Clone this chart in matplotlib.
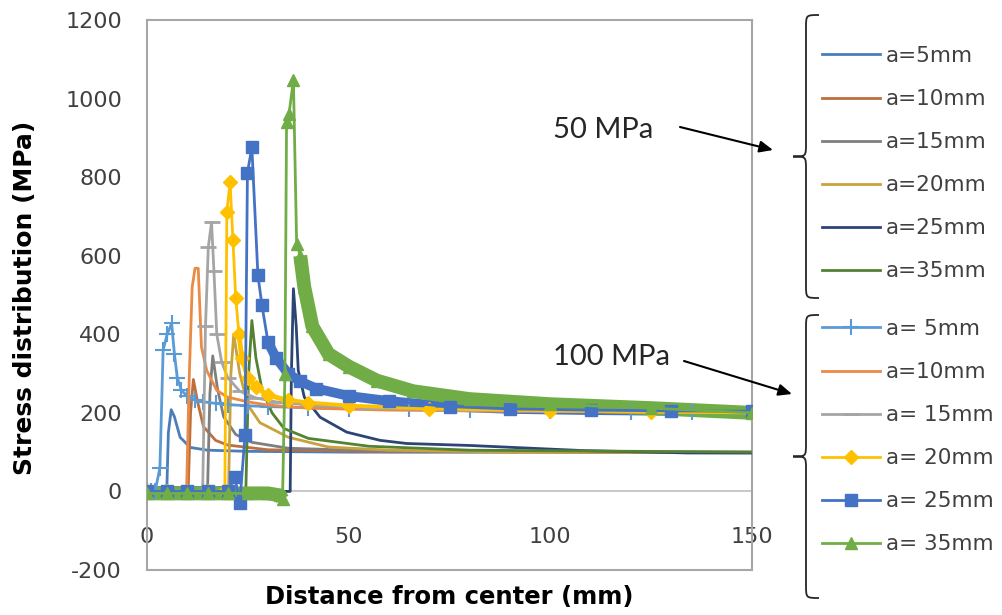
import numpy as np
import matplotlib
matplotlib.use('Agg')
import matplotlib.pyplot as plt
from matplotlib.path import Path
from matplotlib.patches import PathPatch

plt.rcParams['axes.unicode_minus'] = False

# ---- 50 MPa, plain lines ----
x_50_a5 = [0, 4.9, 5.3, 6.0, 6.8, 8.2, 10.7, 15, 25, 50, 100, 150]
y_50_a5 = [0, 0, 150, 208, 190, 138, 112, 105, 102, 100, 100, 98]
x_50_a10 = [0, 10.2, 10.8, 11.5, 12.5, 14, 17, 20, 30, 60, 150]
y_50_a10 = [0, 0, 200, 285, 230, 165, 130, 118, 106, 101, 100]
x_50_a15 = [0, 15.0, 15.6, 16.3, 17.5, 19, 22, 26, 35, 60, 150]
y_50_a15 = [0, 0, 250, 345, 260, 190, 145, 125, 110, 102, 100]
x_50_a20 = [0, 20.2, 20.8, 21.5, 23, 25, 28, 35, 45, 60, 90, 150]
y_50_a20 = [0, 0, 300, 400, 300, 220, 175, 138, 113, 105, 100, 99]
x_50_a25 = [0, 35.5, 35.8, 36.3, 37.0, 37.5, 39, 42.9, 49.5, 57.8, 64.4, 80, 108, 134, 150]
y_50_a25 = [0, 0, 300, 516, 420, 308, 240, 189, 151, 130, 122, 117, 104, 98, 98]
x_50_a35 = [0, 24.5, 25.2, 26.0, 27, 28.5, 31, 34, 40, 55, 80, 150]
y_50_a35 = [0, 0, 300, 435, 340, 260, 200, 160, 135, 115, 105, 100]

# ---- 100 MPa, with markers ----
x_100_a5 = [0, 1, 2, 3.2, 4.0, 5.0, 6.1, 6.8, 7.5, 8.5, 10, 12, 14, 17, 20, 25, 30, 40,
            50, 65, 80, 100, 120, 135, 150]
y_100_a5 = [0, 0, 0, 60, 360, 400, 428, 350, 290, 258, 242, 233, 228, 224, 221, 218, 216, 213,
            211, 209, 207, 205, 203, 202, 200]
x_100_a10 = [0, 5, 9.8, 10.5, 11.2, 11.9, 12.7, 13.5, 14.8, 17.3, 20, 25, 30, 40, 60, 90, 120, 150]
y_100_a10 = [0, 0, 0, 300, 520, 568, 568, 368, 308, 257, 240, 228, 220, 212, 207, 204, 202, 200]
x_100_a15 = [0, 5, 10, 13.8, 14.5, 15.2, 16.0, 16.6, 17.3, 18.5, 20, 23, 27, 32, 40, 55, 75,
             100, 125, 150]
y_100_a15 = [0, 0, 0, 0, 420, 622, 685, 560, 400, 330, 290, 255, 238, 228, 220, 212, 207,
             204, 202, 200]
x_100_a20 = [0, 5, 10, 15, 19.3, 19.8, 20.6, 21.3, 22.0, 22.8, 23.5, 25, 27, 30, 35, 40, 50,
             70, 100, 125, 150]
y_100_a20 = [0, 0, 0, 0, 0, 712, 788, 640, 492, 400, 340, 290, 265, 245, 232, 225, 217,
             210, 205, 202, 200]
x_100_a25 = [0, 5, 10, 15, 20, 21.8, 23.0, 24.3, 24.9, 26.0, 27.5, 28.5, 30, 32, 35, 38, 42,
             50, 60, 75, 90, 110, 130, 150]
y_100_a25 = [0, 0, 0, 0, 0, 36, -30, 143, 811, 876, 550, 474, 380, 340, 300, 280, 262,
             243, 230, 216, 210, 207, 205, 204]
x_100_a35 = [0, 5, 10, 15, 20, 25, 30, 33.0, 33.6, 34.2, 34.6, 35.2, 36.3, 37.1, 38.0, 39,
             41, 45, 50, 57, 66, 80, 100, 125, 150]
y_100_a35 = [-5, -5, -5, -5, -5, -5, -5, -10, -20, 300, 941, 960, 1047, 631, 600, 520,
             420, 350, 318, 282, 255, 235, 222, 212, 200]

labels_50 = ['a=5mm', 'a=10mm', 'a=15mm', 'a=20mm', 'a=25mm', 'a=35mm']
labels_100 = ['a= 5mm', 'a=10mm', 'a= 15mm', 'a= 20mm', 'a= 25mm', 'a= 35mm']

colors_50 = ['#4A7EBB', '#BE6F3E', '#7F7F7F', '#C9A23C', '#2B4574', '#548235']
colors_100 = ['#5B9BD5', '#EB8A45', '#A5A5A5', '#FFC000', '#4472C4', '#70AD47']

fig = plt.figure(figsize=(10.03, 6.15), dpi=100)
ax = fig.add_axes([147 / 1003, 45 / 615, 605 / 1003, 550 / 615])

ax.axhline(0, color='#BFBFBF', lw=1.2, zorder=1)

series_50 = [(x_50_a5, y_50_a5), (x_50_a10, y_50_a10), (x_50_a15, y_50_a15),
             (x_50_a20, y_50_a20), (x_50_a25, y_50_a25), (x_50_a35, y_50_a35)]
series_100 = [(x_100_a5, y_100_a5), (x_100_a10, y_100_a10), (x_100_a15, y_100_a15),
              (x_100_a20, y_100_a20), (x_100_a25, y_100_a25), (x_100_a35, y_100_a35)]

handles_50 = []
for (x, y), lab, c in zip(series_50, labels_50, colors_50):
    ln, = ax.plot(x, y, color=c, lw=2.0, label=lab, zorder=3)
    handles_50.append(ln)


def band(x, y, color, lw, base_end, tail_start):
    # thick stroke standing in for the crowd of overlapping markers
    x = np.array(x)
    y = np.array(y)
    for m in (x <= base_end, x >= tail_start):
        ax.plot(x[m], y[m], color=color, lw=lw, solid_capstyle='butt', zorder=4)


band(x_100_a20, y_100_a20, colors_100[3], 3.5, 15, 22.8)
band(x_100_a25, y_100_a25, colors_100[4], 7, 20, 30)
band(x_100_a35, y_100_a35, colors_100[5], 10, 33.6, 38)

styles_100 = [dict(marker='+', ms=12, mew=1.5),
              dict(marker='None'),
              dict(marker='_', ms=11, mew=2),
              dict(marker='D', ms=7),
              dict(marker='s', ms=9),
              dict(marker='^', ms=9)]
handles_100 = []
for (x, y), lab, c, st in zip(series_100, labels_100, colors_100, styles_100):
    ln, = ax.plot(x, y, color=c, lw=2.0, label=lab, zorder=5, **st)
    handles_100.append(ln)

ax.set_xlim(0, 150)
ax.set_ylim(-200, 1200)
ax.set_xticks([0, 50, 100, 150])
ax.set_yticks(range(-200, 1201, 200))
ax.tick_params(axis='both', length=0, labelsize=16, labelcolor='#404040')
ax.tick_params(axis='x', pad=-31)
ax.tick_params(axis='y', pad=18)
for sp in ax.spines.values():
    sp.set_color('#A6A6A6')
    sp.set_linewidth(1.5)

ax.set_xlabel('Distance from center (mm)', fontsize=17.5, fontweight='bold', color='black')
ax.set_ylabel('Stress distribution (MPa)', fontsize=18, fontweight='bold', color='black')
ax.xaxis.set_label_coords(0.5, -0.028)
ax.yaxis.set_label_coords(-0.182, 0.495)

leg_kw = dict(frameon=False, fontsize=15.5, handlelength=2.7, handletextpad=0.25,
              labelspacing=1.07, borderpad=0, borderaxespad=0, loc='upper left',
              labelcolor='#404040')
fig.legend(handles=handles_50, bbox_to_anchor=(822 / 1003, 1 - 46 / 615), **leg_kw)
fig.legend(handles=handles_100, bbox_to_anchor=(822 / 1003, 1 - 319 / 615), **leg_kw)

# overlay in pixel coordinates for braces, notes and arrows
ov = fig.add_axes([0, 0, 1, 1], facecolor='none')
ov.set_xlim(0, 1003)
ov.set_ylim(615, 0)
ov.axis('off')


def brace(x, y0, y1, r=13):
    mid = (y0 + y1) / 2
    verts = [(x + r, y0), (x, y0), (x, y0), (x, y0 + r),
             (x, mid - r),
             (x, mid), (x, mid), (x - r, mid),
             (x, mid), (x, mid), (x, mid + r),
             (x, y1 - r),
             (x, y1), (x, y1), (x + r, y1)]
    codes = [Path.MOVETO, Path.CURVE4, Path.CURVE4, Path.CURVE4,
             Path.LINETO,
             Path.CURVE4, Path.CURVE4, Path.CURVE4,
             Path.CURVE4, Path.CURVE4, Path.CURVE4,
             Path.LINETO,
             Path.CURVE4, Path.CURVE4, Path.CURVE4]
    ov.add_patch(PathPatch(Path(verts, codes), fill=False, lw=1.3, edgecolor='#262626'))


brace(806, 15, 298)
brace(806, 315, 598)

ov.text(553, 130, '50 MPa', fontsize=21, family='Lato', color='#262626', va='center', ha='left')
ov.text(553, 357, '100 MPa', fontsize=21, family='Lato', color='#262626', va='center', ha='left')
arrow = dict(arrowstyle='-|>,head_length=0.8,head_width=0.35', lw=1.5, color='black',
             shrinkA=0, shrinkB=0)
ov.annotate('', xy=(773, 150), xytext=(680, 127), arrowprops=arrow)
ov.annotate('', xy=(792, 394), xytext=(684, 361), arrowprops=arrow)

fig.savefig('out.png', dpi=100, facecolor='white')
